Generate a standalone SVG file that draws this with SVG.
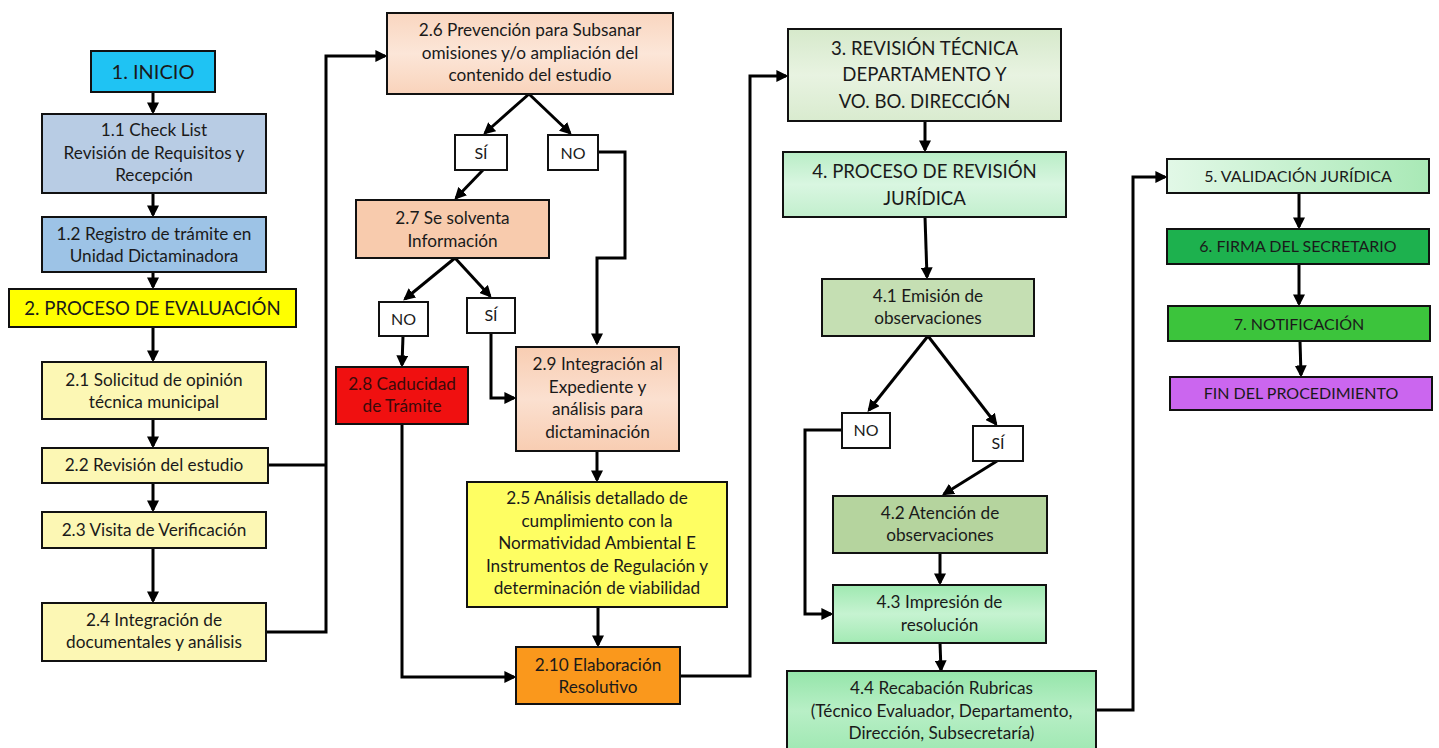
<svg xmlns="http://www.w3.org/2000/svg" width="1439" height="748" viewBox="0 0 1439 748">
<style>
.b{stroke:#111;stroke-width:2}
.t{font-family:Lato,"Liberation Sans",sans-serif;font-size:17.2px;fill:#1a1a1a;text-anchor:middle}
.h{font-size:18.6px}
.u{font-size:16px}
.c{fill:none;stroke:#000;stroke-width:3;marker-end:url(#ar)}
.n{fill:none;stroke:#000;stroke-width:3}
</style>
<defs>
<marker id="ar" markerUnits="userSpaceOnUse" markerWidth="12" markerHeight="12" refX="8" refY="5" orient="auto" viewBox="0 0 10 10">
<path d="M0,0 L10,5 L0,10 z" fill="#000"/>
</marker>
<linearGradient id="g26" x1="0" y1="0" x2="0" y2="1"><stop offset="0" stop-color="#f9d6c0"/><stop offset="0.5" stop-color="#fce6d8"/><stop offset="1" stop-color="#f9d3bb"/></linearGradient>
<linearGradient id="g29" x1="0" y1="0" x2="0" y2="1"><stop offset="0" stop-color="#f8cdb2"/><stop offset="0.5" stop-color="#fbe0d0"/><stop offset="1" stop-color="#f8cdb2"/></linearGradient>
<linearGradient id="g3" x1="0" y1="0" x2="0" y2="1"><stop offset="0" stop-color="#d6e9cb"/><stop offset="0.5" stop-color="#e8f3e1"/><stop offset="1" stop-color="#d9ebcf"/></linearGradient>
<linearGradient id="g4" x1="0" y1="0" x2="0" y2="1"><stop offset="0" stop-color="#b9edc6"/><stop offset="0.5" stop-color="#d9f6e1"/><stop offset="1" stop-color="#c2efcd"/></linearGradient>
<linearGradient id="g43" x1="0" y1="0" x2="0" y2="1"><stop offset="0" stop-color="#9fe9b1"/><stop offset="0.5" stop-color="#c6f3d1"/><stop offset="1" stop-color="#a3eab4"/></linearGradient>
<linearGradient id="g44" x1="0" y1="0" x2="0" y2="1"><stop offset="0" stop-color="#95e5aa"/><stop offset="0.5" stop-color="#b8efc6"/><stop offset="1" stop-color="#a0e8b3"/></linearGradient>
<linearGradient id="g5" x1="0" y1="0" x2="1" y2="0"><stop offset="0" stop-color="#e2f8e7"/><stop offset="1" stop-color="#a9e9b6"/></linearGradient>
</defs>

<g id="connectors">
<path class="c" d="M153,92 V112"/>
<path class="c" d="M153,193 V215"/>
<path class="c" d="M153,272 V287"/>
<path class="c" d="M153,327 V360"/>
<path class="c" d="M153,419 V446"/>
<path class="c" d="M153,483 V510"/>
<path class="c" d="M153,548 V601"/>
<path class="n" d="M268,465 H326"/>
<path class="c" d="M266,632 H326 V56 H385"/>
<path class="c" d="M529,94 L485,133"/>
<path class="c" d="M529,94 L570,133"/>
<path class="c" d="M598,152 H625 V258 H597 V343"/>
<path class="c" d="M483,170 L456,198"/>
<path class="c" d="M455,258 L405,299"/>
<path class="c" d="M455,258 L490,296"/>
<path class="c" d="M403,336 L402,365"/>
<path class="c" d="M491,333 V398 H514"/>
<path class="c" d="M597,451 V480"/>
<path class="c" d="M598,607 V645"/>
<path class="c" d="M402,424 V677 H514"/>
<path class="c" d="M680,676 H750 V76 H786"/>
<path class="c" d="M925,121 V150"/>
<path class="c" d="M925,217 L927,277"/>
<path class="c" d="M928,336 L869,410"/>
<path class="c" d="M928,336 L996,424"/>
<path class="c" d="M842,430 H805 V614 H831"/>
<path class="c" d="M997,461 L944,494"/>
<path class="c" d="M940,553 V583"/>
<path class="c" d="M940,643 L941,670"/>
<path class="c" d="M1096,710 H1133 V177 H1165"/>
<path class="c" d="M1299,193 V227"/>
<path class="c" d="M1299,264 V304"/>
<path class="c" d="M1300,341 L1301,375"/>
</g>

<g id="n1"><rect class="b" x="91" y="51" width="124" height="41" fill="#1fc3f3"/><text class="t" x="153" y="79" style="font-size:20px">1. INICIO</text></g>
<g id="n1_1"><rect class="b" x="42" y="114" width="224" height="79" fill="#b8cce4"/><text class="t" x="154" y="136">1.1 Check List</text><text class="t" x="154" y="159">Revisión de Requisitos y</text><text class="t" x="154" y="181">Recepción</text></g>
<g id="n1_2"><rect class="b" x="42" y="217" width="224" height="55" fill="#9dc3e6"/><text class="t" x="154" y="240">1.2 Registro de trámite en</text><text class="t" x="154" y="262">Unidad Dictaminadora</text></g>
<g id="n2"><rect class="b" x="9" y="289" width="287" height="38" fill="#ffff00"/><text class="t h" x="152.5" y="315">2. PROCESO DE EVALUACIÓN</text></g>
<g id="n2_1"><rect class="b" x="42" y="362" width="224" height="57" fill="#fcf7b4"/><text class="t" x="154" y="386">2.1 Solicitud de opinión</text><text class="t" x="154" y="408">técnica municipal</text></g>
<g id="n2_2"><rect class="b" x="42" y="448" width="226" height="35" fill="#fcf7b4"/><text class="t" x="154" y="471">2.2 Revisión del estudio</text></g>
<g id="n2_3"><rect class="b" x="42" y="512" width="224" height="36" fill="#fcf7b4"/><text class="t" x="154" y="536">2.3 Visita de Verificación</text></g>
<g id="n2_4"><rect class="b" x="42" y="603" width="224" height="58" fill="#fcf7b4"/><text class="t" x="154" y="626">2.4 Integración de</text><text class="t" x="154" y="648">documentales y análisis</text></g>

<g id="n2_6"><rect class="b" x="387" y="13" width="286" height="81" fill="url(#g26)"/><text class="t" x="530" y="36">2.6 Prevención para Subsanar</text><text class="t" x="530" y="59">omisiones y/o ampliación del</text><text class="t" x="530" y="81">contenido del estudio</text></g>
<g id="si1"><rect class="b" x="455" y="135" width="52" height="35" fill="#fff"/><text class="t u" x="481" y="159">SÍ</text></g>
<g id="no1"><rect class="b" x="548" y="135" width="50" height="35" fill="#fff"/><text class="t u" x="573" y="159">NO</text></g>
<g id="n2_7"><rect class="b" x="356" y="200" width="193" height="58" fill="#f8cbad"/><text class="t" x="452.5" y="224">2.7 Se solventa</text><text class="t" x="452.5" y="247">Información</text></g>
<g id="no2"><rect class="b" x="379" y="302" width="49" height="34" fill="#fff"/><text class="t u" x="403.5" y="325">NO</text></g>
<g id="si2"><rect class="b" x="467" y="298" width="48" height="35" fill="#fff"/><text class="t u" x="491" y="321">SÍ</text></g>
<g id="n2_8"><rect class="b" x="336" y="367" width="132" height="57" fill="#f01010"/><text class="t" x="402" y="390" style="fill:#3a0a0a">2.8 Caducidad</text><text class="t" x="402" y="412" style="fill:#3a0a0a">de Trámite</text></g>
<g id="n2_9"><rect class="b" x="516" y="347" width="163" height="104" fill="url(#g29)"/><text class="t" x="597.5" y="370">2.9 Integración al</text><text class="t" x="597.5" y="393">Expediente y</text><text class="t" x="597.5" y="415">análisis para</text><text class="t" x="597.5" y="438">dictaminación</text></g>
<g id="n2_5"><rect class="b" x="467" y="482" width="260" height="125" fill="#fefe62"/><text class="t" x="597" y="504">2.5 Análisis detallado de</text><text class="t" x="597" y="527">cumplimiento con la</text><text class="t" x="597" y="549">Normatividad Ambiental E</text><text class="t" x="597" y="572">Instrumentos de Regulación y</text><text class="t" x="597" y="594">determinación de viabilidad</text></g>
<g id="n2_10"><rect class="b" x="516" y="647" width="164" height="57" fill="#fa981c"/><text class="t" x="598" y="671">2.10 Elaboración</text><text class="t" x="598" y="693">Resolutivo</text></g>

<g id="n3"><rect class="b" x="788" y="29" width="273" height="92" fill="url(#g3)"/><text class="t h" x="924.5" y="55">3. REVISIÓN TÉCNICA</text><text class="t h" x="924.5" y="81">DEPARTAMENTO Y</text><text class="t h" x="924.5" y="108">VO. BO. DIRECCIÓN</text></g>
<g id="n4"><rect class="b" x="783" y="152" width="283" height="65" fill="url(#g4)"/><text class="t h" x="924.5" y="178">4. PROCESO DE REVISIÓN</text><text class="t h" x="924.5" y="205">JURÍDICA</text></g>
<g id="n4_1"><rect class="b" x="822" y="279" width="212" height="57" fill="#c5dfb3"/><text class="t" x="928" y="302">4.1 Emisión de</text><text class="t" x="928" y="324">observaciones</text></g>
<g id="no3"><rect class="b" x="842" y="413" width="48" height="35" fill="#fff"/><text class="t u" x="866" y="436">NO</text></g>
<g id="si3"><rect class="b" x="973" y="426" width="50" height="35" fill="#fff"/><text class="t u" x="998" y="449">SÍ</text></g>
<g id="n4_2"><rect class="b" x="833" y="496" width="214" height="57" fill="#b5d49e"/><text class="t" x="940" y="519">4.2 Atención de</text><text class="t" x="940" y="541">observaciones</text></g>
<g id="n4_3"><rect class="b" x="833" y="585" width="213" height="58" fill="url(#g43)"/><text class="t" x="939.5" y="608">4.3 Impresión de</text><text class="t" x="939.5" y="631">resolución</text></g>
<g id="n4_4"><rect class="b" x="787" y="671" width="309" height="80" fill="url(#g44)"/><text class="t" x="941.5" y="694">4.4 Recabación Rubricas</text><text class="t" x="941.5" y="717">(Técnico Evaluador, Departamento,</text><text class="t" x="941.5" y="739">Dirección, Subsecretaría)</text></g>

<g id="n5"><rect class="b" x="1167" y="159" width="262" height="34" fill="url(#g5)"/><text class="t u" x="1298" y="182">5. VALIDACIÓN JURÍDICA</text></g>
<g id="n6"><rect class="b" x="1167" y="229" width="262" height="35" fill="#1db14e"/><text class="t u" x="1298" y="252">6. FIRMA DEL SECRETARIO</text></g>
<g id="n7"><rect class="b" x="1168" y="306" width="262" height="35" fill="#3cc43c"/><text class="t u" x="1299" y="330">7. NOTIFICACIÓN</text></g>
<g id="fin"><rect class="b" x="1170" y="377" width="262" height="33" fill="#cb66ef"/><text class="t u" x="1301" y="399">FIN DEL PROCEDIMIENTO</text></g>
</svg>
